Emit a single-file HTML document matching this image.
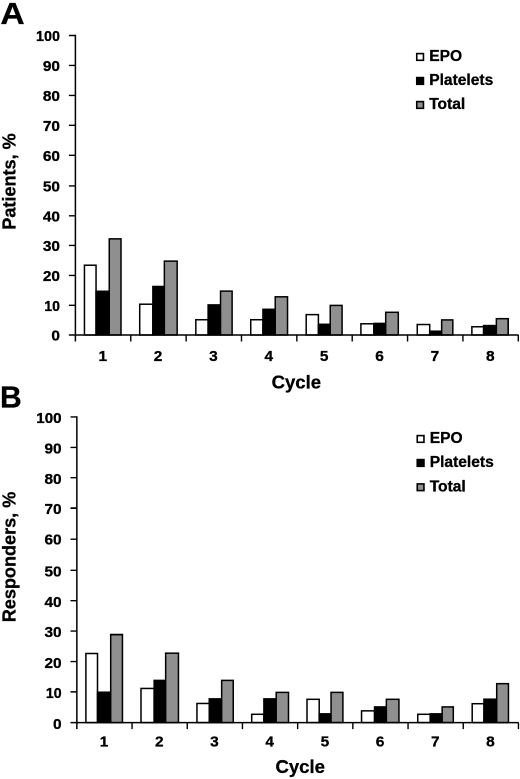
<!DOCTYPE html>
<html><head><meta charset="utf-8"><title>Figure</title>
<style>
html,body{margin:0;padding:0;background:#fff}
#c{position:relative;width:520px;height:779px;overflow:hidden;background:#fff}
#z{position:absolute;left:0;top:0;width:1040px;height:1558px;transform:scale(.5);transform-origin:0 0;will-change:transform}
svg{display:block}
text{font-family:"Liberation Sans",Arial,Helvetica,sans-serif;font-weight:bold;fill:#000;stroke:#000;stroke-width:.3px}
.t{font-size:14.6px}
.g{font-size:15.66px}
.l{font-size:18.8px}
.p{font-size:31px}
</style></head><body>
<div id="c"><div id="z">
<svg width="1040" height="1558" viewBox="0 0 520 779">
<rect width="520" height="779" fill="#fff"/>
<rect x="84.45" y="265.22" width="11.60" height="69.78" fill="#fff" stroke="#000" stroke-width="1.5"/>
<rect x="96.05" y="291.27" width="13.20" height="43.73" fill="#000" stroke="#000" stroke-width="1.5"/>
<rect x="109.25" y="238.86" width="11.75" height="96.14" fill="#8f8f8f" stroke="#000" stroke-width="1.5"/>
<rect x="139.71" y="304.21" width="13.15" height="30.79" fill="#fff" stroke="#000" stroke-width="1.5"/>
<rect x="152.86" y="286.48" width="11.50" height="48.52" fill="#000" stroke="#000" stroke-width="1.5"/>
<rect x="164.36" y="261.11" width="12.80" height="73.89" fill="#8f8f8f" stroke="#000" stroke-width="1.5"/>
<rect x="195.82" y="319.73" width="12.30" height="15.27" fill="#fff" stroke="#000" stroke-width="1.5"/>
<rect x="208.12" y="304.90" width="12.40" height="30.10" fill="#000" stroke="#000" stroke-width="1.5"/>
<rect x="220.52" y="291.12" width="11.60" height="43.88" fill="#8f8f8f" stroke="#000" stroke-width="1.5"/>
<rect x="250.73" y="319.73" width="12.20" height="15.27" fill="#fff" stroke="#000" stroke-width="1.5"/>
<rect x="262.93" y="309.30" width="12.30" height="25.70" fill="#000" stroke="#000" stroke-width="1.5"/>
<rect x="275.23" y="296.81" width="12.30" height="38.19" fill="#8f8f8f" stroke="#000" stroke-width="1.5"/>
<rect x="306.19" y="314.63" width="12.20" height="20.37" fill="#fff" stroke="#000" stroke-width="1.5"/>
<rect x="318.39" y="324.31" width="11.85" height="10.69" fill="#000" stroke="#000" stroke-width="1.5"/>
<rect x="330.24" y="305.41" width="11.85" height="29.59" fill="#8f8f8f" stroke="#000" stroke-width="1.5"/>
<rect x="360.90" y="323.80" width="13.00" height="11.20" fill="#fff" stroke="#000" stroke-width="1.5"/>
<rect x="373.90" y="323.41" width="11.80" height="11.59" fill="#000" stroke="#000" stroke-width="1.5"/>
<rect x="385.70" y="312.30" width="12.60" height="22.70" fill="#8f8f8f" stroke="#000" stroke-width="1.5"/>
<rect x="417.26" y="324.52" width="12.45" height="10.48" fill="#fff" stroke="#000" stroke-width="1.5"/>
<rect x="429.71" y="331.20" width="11.95" height="3.80" fill="#000" stroke="#000" stroke-width="1.5"/>
<rect x="441.66" y="319.91" width="11.15" height="15.09" fill="#8f8f8f" stroke="#000" stroke-width="1.5"/>
<rect x="471.87" y="326.76" width="11.75" height="8.24" fill="#fff" stroke="#000" stroke-width="1.5"/>
<rect x="483.62" y="325.57" width="12.75" height="9.43" fill="#000" stroke="#000" stroke-width="1.5"/>
<rect x="496.37" y="318.68" width="11.75" height="16.32" fill="#8f8f8f" stroke="#000" stroke-width="1.5"/>
<path d="M75.4 34.8V341.5M68.9 335.0H518.5" stroke="#000" stroke-width="1.5" fill="none"/>
<text transform="translate(60.00 340.60) scale(1.055 1.0)" text-anchor="end" class="t">0</text>
<text transform="translate(60.00 310.95) scale(0.97 1.0)" text-anchor="end" class="t">10</text>
<text transform="translate(60.00 281.00) scale(1.055 1.0)" text-anchor="end" class="t">20</text>
<text transform="translate(60.00 251.05) scale(1.055 1.0)" text-anchor="end" class="t">30</text>
<text transform="translate(60.00 221.40) scale(1.055 1.0)" text-anchor="end" class="t">40</text>
<text transform="translate(60.00 191.55) scale(1.055 1.0)" text-anchor="end" class="t">50</text>
<text transform="translate(60.00 160.90) scale(1.055 1.0)" text-anchor="end" class="t">60</text>
<text transform="translate(60.00 130.95) scale(1.055 1.0)" text-anchor="end" class="t">70</text>
<text transform="translate(60.00 101.00) scale(1.055 1.0)" text-anchor="end" class="t">80</text>
<text transform="translate(60.00 71.05) scale(1.055 1.0)" text-anchor="end" class="t">90</text>
<text transform="translate(60.00 41.10) scale(0.985 1.0)" text-anchor="end" class="t">100</text>
<text transform="translate(102.73 360.80) scale(1.055 1.0)" text-anchor="middle" class="t">1</text>
<text transform="translate(158.09 360.80) scale(1.055 1.0)" text-anchor="middle" class="t">2</text>
<text transform="translate(213.45 360.80) scale(1.055 1.0)" text-anchor="middle" class="t">3</text>
<text transform="translate(268.81 360.80) scale(1.055 1.0)" text-anchor="middle" class="t">4</text>
<text transform="translate(324.17 360.80) scale(1.055 1.0)" text-anchor="middle" class="t">5</text>
<text transform="translate(379.53 360.80) scale(1.055 1.0)" text-anchor="middle" class="t">6</text>
<text transform="translate(434.89 360.80) scale(1.055 1.0)" text-anchor="middle" class="t">7</text>
<text transform="translate(490.25 360.80) scale(1.055 1.0)" text-anchor="middle" class="t">8</text>
<path d="M68.9 305.35H75.4M68.9 275.40H75.4M68.9 245.45H75.4M68.9 215.80H75.4M68.9 185.95H75.4M68.9 155.30H75.4M68.9 125.35H75.4M68.9 95.40H75.4M68.9 65.45H75.4M68.9 35.50H75.4M130.76 335.0V341.5M186.12 335.0V341.5M241.48 335.0V341.5M296.84 335.0V341.5M352.20 335.0V341.5M407.56 335.0V341.5M462.92 335.0V341.5M518.28 335.0V341.5" stroke="#000" stroke-width="1.4" fill="none"/>
<text transform="translate(296.30 388.50) scale(0.987 1.0)" text-anchor="middle" class="l">Cycle</text>
<text transform="translate(15.30 181.50) rotate(-90) scale(0.962 1.0)" text-anchor="middle" class="l">Patients, %</text>
<text transform="translate(0.40 23.80) scale(1.085 1.0)" class="p">A</text>
<rect x="416.75" y="53.6" width="6.7" height="6.7" fill="#fff" stroke="#000" stroke-width="1.6"/>
<text transform="translate(429.20 61.00) scale(0.996 1.0)" class="g">EPO</text>
<rect x="416.75" y="77.6" width="6.7" height="6.7" fill="#000" stroke="#000" stroke-width="1.6"/>
<text transform="translate(429.20 85.00) scale(0.996 1.0)" class="g">Platelets</text>
<rect x="416.75" y="101.6" width="6.7" height="6.7" fill="#8f8f8f" stroke="#000" stroke-width="1.6"/>
<text transform="translate(429.20 109.00) scale(0.996 1.0)" class="g">Total</text>
<rect x="85.90" y="653.50" width="11.60" height="69.10" fill="#fff" stroke="#000" stroke-width="1.5"/>
<rect x="97.50" y="692.23" width="13.20" height="30.37" fill="#000" stroke="#000" stroke-width="1.5"/>
<rect x="110.70" y="634.49" width="11.75" height="88.11" fill="#8f8f8f" stroke="#000" stroke-width="1.5"/>
<rect x="141.00" y="688.45" width="13.15" height="34.15" fill="#fff" stroke="#000" stroke-width="1.5"/>
<rect x="154.15" y="680.39" width="11.50" height="42.21" fill="#000" stroke="#000" stroke-width="1.5"/>
<rect x="165.65" y="653.17" width="12.80" height="69.43" fill="#8f8f8f" stroke="#000" stroke-width="1.5"/>
<rect x="196.95" y="703.46" width="12.30" height="19.14" fill="#fff" stroke="#000" stroke-width="1.5"/>
<rect x="209.25" y="698.86" width="12.40" height="23.74" fill="#000" stroke="#000" stroke-width="1.5"/>
<rect x="221.65" y="680.39" width="11.60" height="42.21" fill="#8f8f8f" stroke="#000" stroke-width="1.5"/>
<rect x="251.70" y="714.30" width="12.20" height="8.30" fill="#fff" stroke="#000" stroke-width="1.5"/>
<rect x="263.90" y="698.86" width="12.30" height="23.74" fill="#000" stroke="#000" stroke-width="1.5"/>
<rect x="276.20" y="692.39" width="12.30" height="30.21" fill="#8f8f8f" stroke="#000" stroke-width="1.5"/>
<rect x="307.00" y="699.31" width="12.20" height="23.29" fill="#fff" stroke="#000" stroke-width="1.5"/>
<rect x="319.20" y="713.84" width="11.85" height="8.76" fill="#000" stroke="#000" stroke-width="1.5"/>
<rect x="331.05" y="692.39" width="11.85" height="30.21" fill="#8f8f8f" stroke="#000" stroke-width="1.5"/>
<rect x="361.55" y="710.85" width="13.00" height="11.75" fill="#fff" stroke="#000" stroke-width="1.5"/>
<rect x="374.55" y="706.91" width="11.80" height="15.69" fill="#000" stroke="#000" stroke-width="1.5"/>
<rect x="386.35" y="699.31" width="12.60" height="23.29" fill="#8f8f8f" stroke="#000" stroke-width="1.5"/>
<rect x="417.75" y="714.30" width="12.45" height="8.30" fill="#fff" stroke="#000" stroke-width="1.5"/>
<rect x="430.20" y="713.84" width="11.95" height="8.76" fill="#000" stroke="#000" stroke-width="1.5"/>
<rect x="442.15" y="706.91" width="11.15" height="15.69" fill="#8f8f8f" stroke="#000" stroke-width="1.5"/>
<rect x="472.20" y="703.71" width="11.75" height="18.89" fill="#fff" stroke="#000" stroke-width="1.5"/>
<rect x="483.95" y="699.19" width="12.75" height="23.41" fill="#000" stroke="#000" stroke-width="1.5"/>
<rect x="496.70" y="683.66" width="11.75" height="38.94" fill="#8f8f8f" stroke="#000" stroke-width="1.5"/>
<path d="M76.85 416.2V729.1M70.5 722.6H518.6" stroke="#000" stroke-width="1.5" fill="none"/>
<text transform="translate(61.60 728.80) scale(1.055 1.0)" text-anchor="end" class="t">0</text>
<text transform="translate(61.60 697.98) scale(0.97 1.0)" text-anchor="end" class="t">10</text>
<text transform="translate(61.60 667.96) scale(1.055 1.0)" text-anchor="end" class="t">20</text>
<text transform="translate(61.60 637.24) scale(1.055 1.0)" text-anchor="end" class="t">30</text>
<text transform="translate(61.60 606.92) scale(1.055 1.0)" text-anchor="end" class="t">40</text>
<text transform="translate(61.60 576.40) scale(1.055 1.0)" text-anchor="end" class="t">50</text>
<text transform="translate(61.60 544.68) scale(1.055 1.0)" text-anchor="end" class="t">60</text>
<text transform="translate(61.60 514.16) scale(1.055 1.0)" text-anchor="end" class="t">70</text>
<text transform="translate(61.60 484.04) scale(1.055 1.0)" text-anchor="end" class="t">80</text>
<text transform="translate(61.60 453.37) scale(1.055 1.0)" text-anchor="end" class="t">90</text>
<text transform="translate(61.60 423.00) scale(1.04 1.0)" text-anchor="end" class="t">100</text>
<text transform="translate(104.05 746.60) scale(1.055 1.0)" text-anchor="middle" class="t">1</text>
<text transform="translate(159.25 746.60) scale(1.055 1.0)" text-anchor="middle" class="t">2</text>
<text transform="translate(214.45 746.60) scale(1.055 1.0)" text-anchor="middle" class="t">3</text>
<text transform="translate(269.65 746.60) scale(1.055 1.0)" text-anchor="middle" class="t">4</text>
<text transform="translate(324.85 746.60) scale(1.055 1.0)" text-anchor="middle" class="t">5</text>
<text transform="translate(380.05 746.60) scale(1.055 1.0)" text-anchor="middle" class="t">6</text>
<text transform="translate(435.25 746.60) scale(1.055 1.0)" text-anchor="middle" class="t">7</text>
<text transform="translate(490.45 746.60) scale(1.055 1.0)" text-anchor="middle" class="t">8</text>
<path d="M70.5 691.88H76.85M70.5 661.56H76.85M70.5 631.04H76.85M70.5 600.67H76.85M70.5 570.30H76.85M70.5 539.18H76.85M70.5 507.96H76.85M70.5 477.67H76.85M70.5 447.47H76.85M70.5 416.95H76.85M132.05 722.6V729.1M187.25 722.6V729.1M242.45 722.6V729.1M297.65 722.6V729.1M352.85 722.6V729.1M408.05 722.6V729.1M463.25 722.6V729.1M518.45 722.6V729.1" stroke="#000" stroke-width="1.4" fill="none"/>
<text transform="translate(300.20 773.00) scale(0.987 1.0)" text-anchor="middle" class="l">Cycle</text>
<text transform="translate(15.40 557.00) rotate(-90) scale(0.962 1.0)" text-anchor="middle" class="l">Responders, %</text>
<text transform="translate(0.00 407.60) scale(0.97 1.0)" class="p">B</text>
<rect x="417.25" y="435.6" width="6.7" height="6.7" fill="#fff" stroke="#000" stroke-width="1.6"/>
<text transform="translate(429.70 443.00) scale(0.996 1.0)" class="g">EPO</text>
<rect x="417.25" y="459.6" width="6.7" height="6.7" fill="#000" stroke="#000" stroke-width="1.6"/>
<text transform="translate(429.70 467.00) scale(0.996 1.0)" class="g">Platelets</text>
<rect x="417.25" y="483.90000000000003" width="6.7" height="6.7" fill="#8f8f8f" stroke="#000" stroke-width="1.6"/>
<text transform="translate(429.70 491.30) scale(0.996 1.0)" class="g">Total</text>
</svg>
</div></div>
</body></html>
